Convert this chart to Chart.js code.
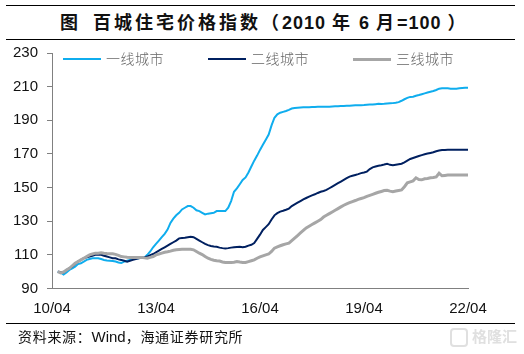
<!DOCTYPE html>
<html>
<head>
<meta charset="utf-8">
<script src="https://cdn.jsdelivr.net/npm/chart.js@4"></script>
<style>
html, body { margin: 0; padding: 0; background: #fff; }
body { width: 524px; height: 354px; position: relative; overflow: hidden; font-family: "Liberation Sans", "Noto Sans CJK SC", sans-serif; }
#chart { position: absolute; left: 0; top: 0; }
.rule { position: absolute; left: 6px; width: 509px; height: 1px; background: #000; }
#title { position: absolute; left: 60px; top: 10px; font-size: 18px; line-height: 26px; font-weight: bold; color: #111; white-space: pre; letter-spacing: 3px; }
#title .num { letter-spacing: 1px; }
#source { position: absolute; left: 18px; top: 328px; font-size: 14px; line-height: 18px; color: #111; white-space: pre; letter-spacing: 0.7px; }
#source .num { font-size: 15px; letter-spacing: 0; }
#legend div { position: absolute; }
.swatch { height: 2px; width: 38px; top: 58px; }
.name { top: 50px; font-size: 14px; line-height: 18px; color: #666; font-weight: 300; letter-spacing: 0.5px; }
#logo { position: absolute; left: 450px; top: 328px; width: 14px; height: 15px; border: 2px solid #e0e0e0; border-radius: 4px; }
#mark { position: absolute; left: 472px; top: 328px; font-size: 15px; line-height: 18px; color: #e0e0e0; font-weight: bold; white-space: pre; }
</style>
</head>
<body>
<div class="rule" style="top:5px"></div>
<div id="title">图<span style="margin-left:12px">百城住宅价格指数（<span class="num">2010 </span>年<span class="num"> 6 </span>月<span class="num">=100 </span>）</span></div>
<div class="rule" style="top:39px"></div>
<canvas id="chart" width="524" height="354"></canvas>
<div id="legend"></div>
<div class="rule" style="top:323px"></div>
<div id="source">资料来源：<span class="num">Wind</span>，海通证券研究所</div>
<div id="logo"></div>
<div id="mark">格隆汇</div>
<script>
const tickLabels = ['10/04', '13/04', '16/04', '19/04', '22/04'];
const seriesNames = ['一线城市', '二线城市', '三线城市'];
const seriesColors = ['#0fadee', '#002060', '#a6a6a6'];
const legendLeft = [63, 208, 353];

// monthly readings, index 0 = 10/04
const firstTier = [null, null,
  100, 99.5, 98.3, 99.5, 101, 102, 103, 104.5, 105, 106, 107, 107.5, 108, 108, 108, 107.5, 107, 106.7, 106.5, 106.3, 106, 105.5,
  105.2, 106, 106.5, 107, 107.5, 108, 108, 108.5, 108.5, 110, 112, 114.5, 116.5, 118.5, 120.5, 122.5, 125, 129, 131.5, 133.5, 135, 137, 138, 139,
  139, 138, 136.5, 136, 135, 134, 134.5, 134.8, 135, 136, 136, 136, 136, 138, 142, 147.5, 149.5, 152, 154.5, 156, 159, 162.5, 166, 169, 172.4,
  175.5, 178.5, 181.5, 187, 191.5, 193.5, 194.5, 195, 195.5, 196.2, 197, 197.3,
  197.5, 197.6, 197.7, 197.8, 197.8, 197.9, 197.9, 198, 198, 198, 198.1, 198.1, 198.2, 198.3, 198.4, 198.5, 198.5, 198.6, 198.7, 198.8, 198.9, 199, 199, 199.1,
  199.3, 199.4, 199.4, 199.6, 199.8, 199.7, 199.8, 200, 200.1, 200.2, 200.4, 200.8, 201.6, 202.5, 203.3, 203.9, 204, 204.6, 205, 205.5, 206, 206.5,
  207, 207.4, 208, 208.8, 209.1, 209.1, 209, 208.8, 208.7, 208.8, 209, 209.2, 209.3, 209.4];
const secondTier = [null, null,
  100, 99.8, 99.5, 101, 102, 103, 104.5, 106, 107, 108, 108.5, 109, 109.5, 110, 110, 110, 109.5, 109, 108.5, 108, 108, 107.3,
  107, 106.5, 106, 106.5, 107, 107.5, 108, 108.3, 108.5, 109, 109.8, 110.5, 111.5, 112.5, 113.5, 114.5, 115.5, 116.5, 117.5, 118.5, 119.8, 120, 120.2, 120.5,
  120.8, 120.5, 119.5, 118.5, 117.5, 116.5, 115.8, 115.3, 115, 114.8, 114.3, 114, 113.8, 114, 114.3, 114.5, 114.7, 114.8, 114.5, 114.8, 115.5, 116, 117, 119.5, 122,
  124.8, 126.5, 128.2, 131, 133.5, 134.8, 135.7, 136.2, 136.8, 137.5, 139, 140,
  141, 142, 143, 143.8, 144.6, 145.4, 146, 146.8, 147.5, 148, 148.6, 149.6, 150.6, 151.6, 152.6, 153.6, 154.6, 155.6, 156.5, 157, 157.5, 158, 158.6, 159,
  159.5, 161, 162, 162.5, 163, 163.3, 163.7, 164.2, 163.5, 163.3, 163.6, 163.9, 164.2, 165, 166, 167, 167.6, 168.2, 168.8, 169.3, 169.8, 170.2,
  170.6, 171, 171.6, 172, 172.3, 172.4, 172.5, 172.5, 172.5, 172.5, 172.5, 172.5, 172.5, 172.5];
const thirdTier = [null, null,
  100, 99.3, 99.8, 101, 102, 103.5, 105, 106, 107, 108, 109, 110, 110.5, 111, 111, 111.3, 111, 110.8, 110.7, 110.6, 110.3, 109.7,
  109, 108.8, 108.6, 108.5, 108.5, 108.5, 108.5, 108.5, 108.2, 108, 108.5, 109, 110, 110.5, 111, 111.5, 111.8, 112.2, 112.7, 113, 113.2, 113.3, 113.3, 113.3,
  113.3, 113, 112, 111, 110.2, 109, 108, 107.3, 106.8, 106.5, 106.3, 105.8, 105.5, 105.5, 105.5, 105.6, 106, 105.7, 105.5, 105.5, 106, 106.5, 107, 108, 108.8,
  109.4, 110, 110.5, 112, 114, 114.8, 115.4, 116, 116.5, 117, 118.5, 120,
  121.5, 123, 124.5, 126, 127, 128, 129, 130, 131, 132.5, 133.5, 134.5, 135.5, 136.5, 137.5, 138.5, 139.5, 140.3, 141, 141.7, 142.3, 143, 143.5, 144,
  144.8, 145.4, 146, 146.6, 147.2, 147.7, 148.2, 148.4, 147.9, 147.6, 148, 148.3, 148.6, 150.5, 152.8, 153.4, 154, 155.8, 154.8, 154.6, 155.2, 155.4,
  155.8, 156, 156.3, 158.5, 157, 157.2, 157.4, 157.4, 157.4, 157.4, 157.4, 157.4, 157.4, 157.4];

const labels = firstTier.map((v, i) => (i % 36 === 0 ? tickLabels[i / 36] : ''));
const allSeries = [firstTier, secondTier, thirdTier];

// legend sits inside the plot in the original, so it is plain html
const legendBox = document.getElementById('legend');
seriesNames.forEach((name, i) => {
    const swatch = document.createElement('div');
    swatch.className = 'swatch';
    swatch.style.left = legendLeft[i] + 'px';
    swatch.style.background = seriesColors[i];
    if (i === 2) swatch.style.height = '3px';
    legendBox.appendChild(swatch);
    const text = document.createElement('div');
    text.className = 'name';
    text.style.left = (legendLeft[i] + 43) + 'px';
    text.textContent = name;
    legendBox.appendChild(text);
});

new Chart(document.getElementById('chart'), {
    type: 'line',
    data: {
        labels: labels,
        datasets: seriesNames.map((name, i) => ({
            label: name,
            data: allSeries[i],
            borderColor: seriesColors[i],
            borderWidth: i === 2 ? 3 : 2,
            pointRadius: 0,
            tension: 0,
            order: 3 - i
        }))
    },
    options: {
        responsive: false,
        animation: false,
        layout: { padding: { top: 53, right: 56, left: 0, bottom: 0 } },
        plugins: { legend: { display: false }, tooltip: { enabled: false } },
        scales: {
            x: {
                offset: false,
                afterFit: scale => { scale.height = 65.5; },
                grid: { display: false },
                border: { color: '#808080', width: 1 },
                ticks: {
                    autoSkip: false,
                    maxRotation: 0,
                    padding: 3,
                    color: '#111',
                    font: { family: '"Liberation Sans"', size: 15 },
                    callback: function(value) { return this.getLabelForValue(value); }
                }
            },
            y: {
                min: 90,
                max: 230,
                afterFit: scale => { scale.width = 52; },
                grid: { drawOnChartArea: false, color: '#808080', tickLength: 5 },
                border: { color: '#808080', width: 1 },
                ticks: {
                    stepSize: 20,
                    padding: 9,
                    color: '#111',
                    font: { family: '"Liberation Sans"', size: 15 }
                }
            }
        }
    }
});
</script>
</body>
</html>
